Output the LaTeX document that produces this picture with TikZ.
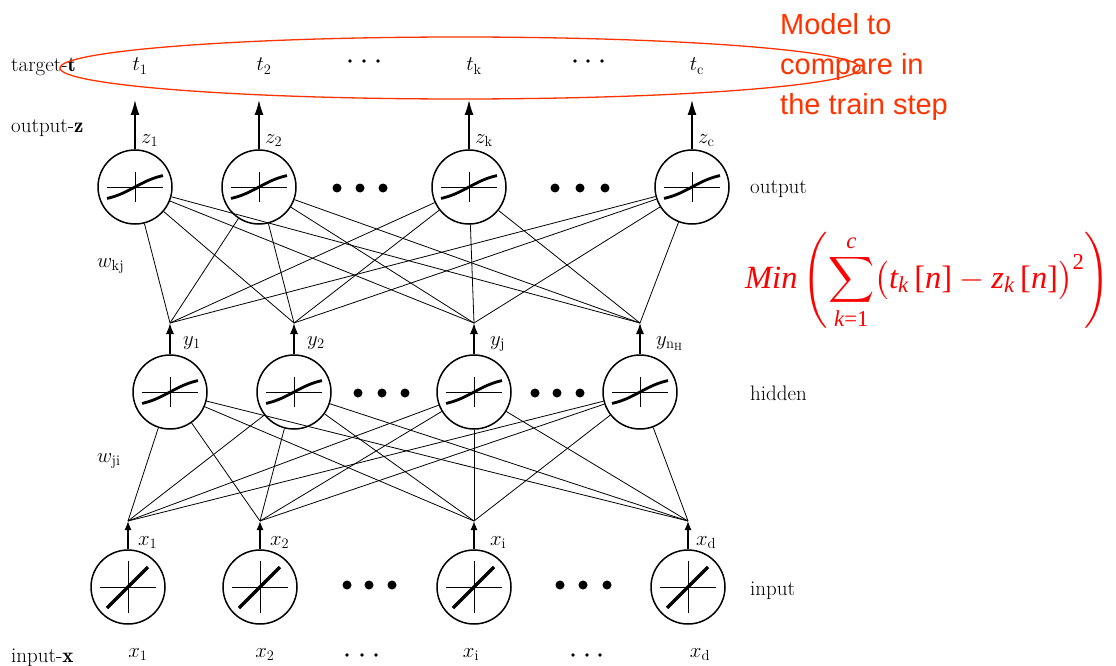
\documentclass[tikz,border=0pt]{standalone}
\usepackage{amsmath}
\usepackage{fontspec}
\usepackage{graphicx}
\usetikzlibrary{arrows.meta}
\newfontfamily\lsans{Liberation Sans}
\newfontfamily\tms{Liberation Serif}
\definecolor{annot}{HTML}{FF3300}
\newcommand\ti[1]{\text{\tms\itshape #1}}
\newcommand\tu[1]{\text{\tms #1}}
\begin{document}
\begin{tikzpicture}[x=1pt,y=-1pt,
  every node/.style={inner sep=0pt, font=\fontsize{21}{25}\selectfont},
  neuron/.style={circle, draw, line width=1.5pt, minimum size=74pt, inner sep=0pt},
  conn/.style={line width=0.8pt},
  outarr/.style={line width=1.3pt, -{Latex[length=15pt,width=9pt]}},
  hidarr/.style={line width=1.3pt, -{Latex[length=11pt,width=8pt]}},
  inarr/.style={line width=1.3pt, -{Latex[length=9pt,width=7pt]}},
  sigpic/.pic={
    \draw[line width=1pt] (-28,0) -- (28,0) (0,-15) -- (0,15);
    \draw[line width=2.8pt] plot[domain=-28:28,samples=30] (\x,{-15*tanh(\x/28)});
  },
  linpic/.pic={
    \draw[line width=1pt] (-28,0) -- (28,0) (0,-26) -- (0,26);
    \draw[line width=3.5pt] (-21,21) -- (20,-20);
  },
  bigdot/.style={circle, fill, minimum size=9pt, inner sep=0pt},
  smalldot/.style={circle, fill, minimum size=3.6pt, inner sep=0pt},
  lbl/.style={anchor=base west},
  clbl/.style={anchor=base}
]
\useasboundingbox (0,0) rectangle (1116,666);

% ---------- output layer ----------
\foreach \n/\x in {1/135,2/259,3/469,4/692}{
  \node[neuron] (o\n) at (\x,187) {};
  \pic at (o\n) {sigpic};
  \coordinate (zt\n) at (\x,100);
  \draw[outarr] (o\n) -- (zt\n);
}
% ---------- hidden layer ----------
\foreach \n/\x in {1/170,2/294,3/474,4/640}{
  \node[neuron] (h\n) at (\x,392) {};
  \pic at (h\n) {sigpic};
  \coordinate (yt\n) at (\x,323);
  \draw[hidarr] (h\n) -- (yt\n);
}
% ---------- input layer ----------
\foreach \n/\x in {1/128,2/260,3/474,4/688}{
  \node[neuron] (i\n) at (\x,587) {};
  \pic at (i\n) {linpic};
  \coordinate (xt\n) at (\x,521);
  \draw[inarr] (i\n) -- (xt\n);
}
% ---------- connections ----------
\foreach \a in {1,...,4}{
  \foreach \b in {1,...,4}{
    \draw[conn] (o\a) -- (yt\b);
    \draw[conn] (h\a) -- (xt\b);
  }
}

% ---------- dots ----------
\foreach \x in {337,360,383,555,580,605} \node[bigdot] at (\x,188) {};
\foreach \x in {358,382,405,535,557,580} \node[bigdot] at (\x,393) {};
\foreach \x in {347,369,392,560,583,607} \node[bigdot] at (\x,585) {};
\foreach \x in {350,364,378,575,588,602} \node[smalldot] at (\x,61) {};
\foreach \x in {347,362,376,573,587,600} \node[smalldot] at (\x,655) {};

% ---------- top targets ----------
\node[clbl] (t1) at (140,71) {$t_1$};
\node[clbl] (t2) at (264,71) {$t_2$};
\node[clbl] (tk) at (474,71) {$t_{\mathrm{k}}$};
\node[clbl] (tc) at (697,71) {$t_{\mathrm{c}}$};

% ---------- arrow labels ----------
\node[lbl] (z1) at (141,143) {$z_1$};
\node[lbl] (z2) at (265,143) {$z_2$};
\node[lbl] (zk) at (475,143) {$z_{\mathrm{k}}$};
\node[lbl] (zc) at (698,143) {$z_{\mathrm{c}}$};
\node[lbl] (y1) at (183,345) {$y_1$};
\node[lbl] (y2) at (307,345) {$y_2$};
\node[lbl] (yj) at (490,345) {$y_{\mathrm{j}}$};
\node[lbl] (yn) at (656,345) {$y_{\mathrm{n}_{\mathrm{H}}}$};
\node[lbl] (x1) at (138,545) {$x_1$};
\node[lbl] (x2) at (270,545) {$x_2$};
\node[lbl] (xi) at (490,545) {$x_{\mathrm{i}}$};
\node[lbl] (xd) at (696,545) {$x_{\mathrm{d}}$};

% ---------- bottom inputs ----------
\node[clbl] (bx1) at (138,657) {$x_1$};
\node[clbl] (bx2) at (265,657) {$x_2$};
\node[clbl] (bxi) at (471,657) {$x_{\mathrm{i}}$};
\node[clbl] (bxd) at (700,657) {$x_{\mathrm{d}}$};

% ---------- side labels ----------
\node[lbl] (lt) at (11,72) {target-$\mathbf{t}$};
\node[lbl] (lz) at (11,133) {output-$\mathbf{z}$};
\node[lbl] (lx) at (11,662) {input-$\mathbf{x}$};
\node[lbl] (wkj) at (97,267) {$w_{\mathrm{kj}}$};
\node[lbl] (wji) at (97,462) {$w_{\mathrm{ji}}$};
\node[lbl] (lo) at (750,193) {output};
\node[lbl] (lh) at (750,400) {hidden};
\node[lbl] (li) at (750,595) {input};

% ---------- annotation ----------
\draw[annot, line width=1.3pt] (460,68) ellipse [x radius=400, y radius=31];
\node[anchor=north west, align=left, text=annot,
      font=\lsans\fontsize{29}{40}\selectfont] (model) at (780,13)
      {Model to\\compare in\\the train step};
\node[anchor=west, text=red] (formula) at (745,281)
  {\resizebox{365pt}{!}{$\displaystyle \ti{Min}\left(\sum_{\ti{k}\tu{=1}}^{\ti{c}}\bigl(\ti{t}_{\ti{k}}\,\tu{[}\ti{n}\tu{]}-\ti{z}_{\ti{k}}\,\tu{[}\ti{n}\tu{]}\bigr)^{\tu{2}}\right)$}};
\end{tikzpicture}
\end{document}
